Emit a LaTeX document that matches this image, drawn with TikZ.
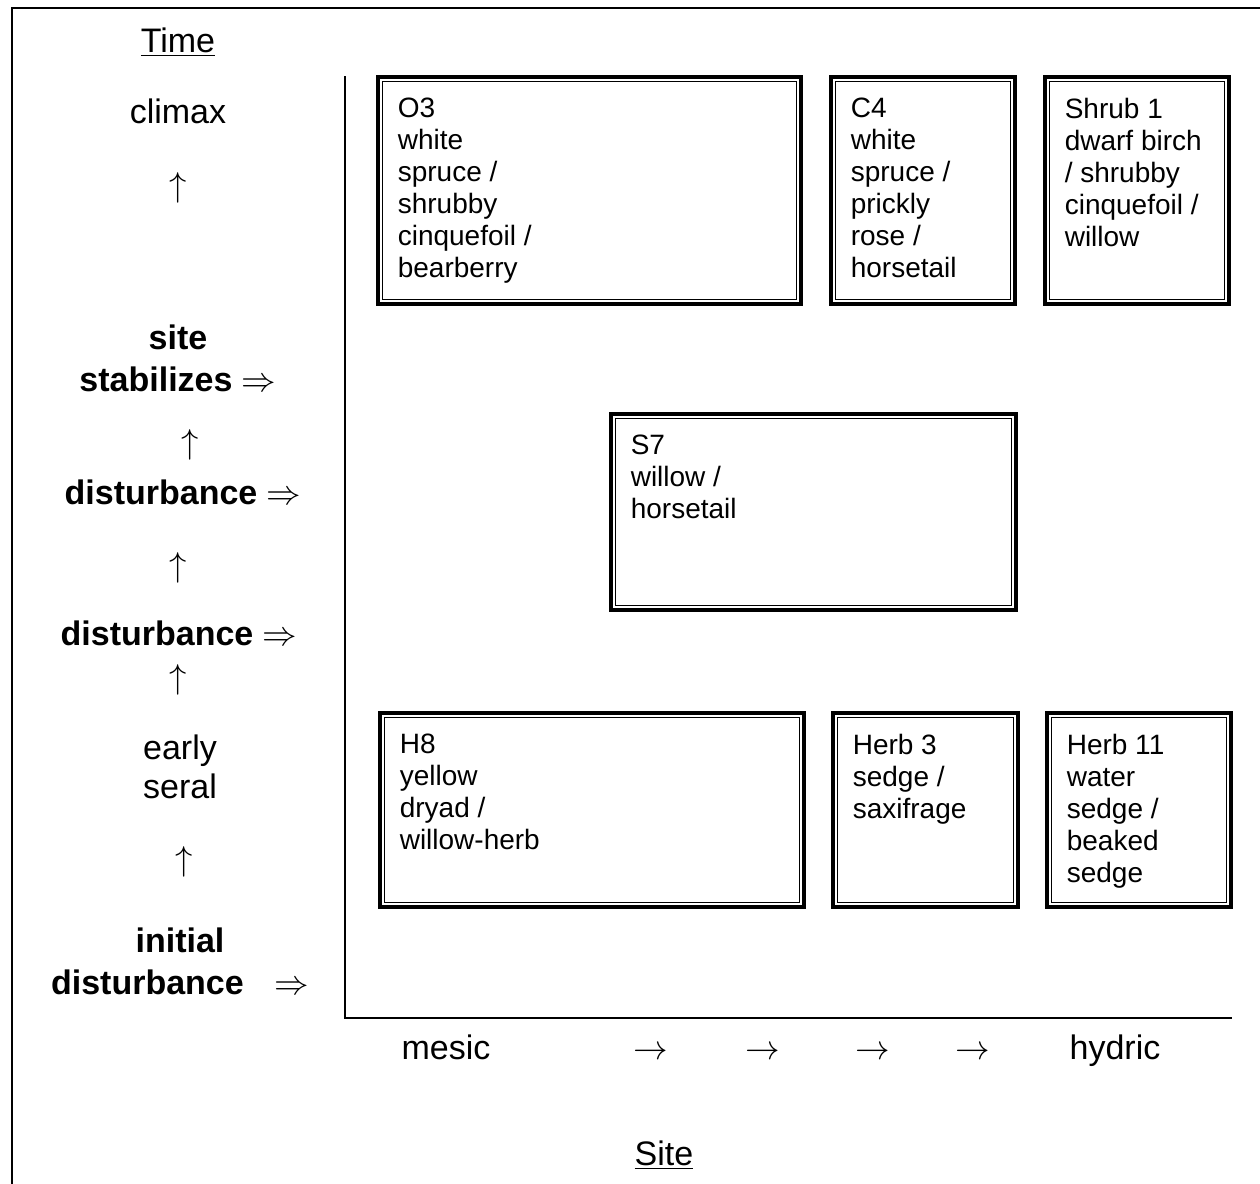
\documentclass[tikz,border=0pt]{standalone}
\usepackage{fontspec}
\setmainfont{Liberation Sans}
\usetikzlibrary{fit}
\tikzset{
  vbox/.style={draw, line width=1.6pt, inner sep=0pt},
  vinner/.style={draw, line width=0.6pt},
  vtext/.style={anchor=north west, inner sep=0pt, align=left, font=\fontsize{14}{16}\selectfont},
  lab/.style={align=center, inner sep=0pt, font=\fontsize{17}{19.5}\selectfont},
  blab/.style={align=center, inner sep=0pt, font=\fontsize{17}{21}\selectfont\bfseries},
  uparr/.style={inner sep=0pt, font=\fontsize{17}{19.5}\selectfont},
  axisline/.style={line width=1.4pt},
  frameline/.style={line width=1.3pt},
}
\newcommand\vegbox[6]{%
  \node[vbox, fit={(#2,#3) (#4,#5)}] (#1) {};
  \draw[vinner] ([shift={(6,6)}]#1.north west) rectangle ([shift={(-6,-6)}]#1.south east);
  \node[vtext] (#1t) at ([shift={(21,22)}]#1.north west) {#6};
}
\begin{document}
\begin{tikzpicture}[x=0.5pt,y=-0.5pt]
\useasboundingbox (0,0) rectangle (1260,1184);
% outer frame
\coordinate (fbl) at (12,1184);
\coordinate (ftl) at (12,8);
\coordinate (ftr) at (1260,8);
\draw[frameline] (fbl) -- (ftl) -- (ftr);
% axes
\coordinate (ytop) at (345,76);
\coordinate (origin) at (345,1018);
\coordinate (xend) at (1232,1018);
\draw[axisline] (ytop) -- (origin) -- (xend);
% boxes
\vegbox{O3}{378}{77}{801}{304}{O3\\white\\spruce /\\shrubby\\cinquefoil /\\bearberry}
\vegbox{C4}{831}{77}{1015}{304}{C4\\white\\spruce /\\prickly\\rose /\\horsetail}
\vegbox{Sh1}{1045}{77}{1229}{304}{Shrub 1\\dwarf birch\\/ shrubby\\cinquefoil /\\willow}
\vegbox{S7}{611}{414}{1016}{610}{S7\\willow /\\horsetail}
\vegbox{H8}{380}{713}{804}{907}{H8\\yellow\\dryad /\\willow-herb}
\vegbox{He3}{833}{713}{1018}{907}{Herb 3\\sedge /\\saxifrage}
\vegbox{He11}{1047}{713}{1231}{907}{Herb 11\\water\\sedge /\\beaked\\sedge}
% time axis labels
\node[lab] (time) at (178,42) {\underline{Time}};
\node[lab] (climax) at (178,111) {climax};
\node[uparr] (u1) at (178,188) {$\uparrow$};
\node[blab] (stab) at (178,358) {site\\stabilizes $\Rightarrow$};
\node[uparr] (u2) at (190,445) {$\uparrow$};
\node[blab] (dist1) at (183,492) {disturbance $\Rightarrow$};
\node[uparr] (u3) at (178,568) {$\uparrow$};
\node[blab] (dist2) at (179,633) {disturbance $\Rightarrow$};
\node[uparr] (u4) at (178,680) {$\uparrow$};
\node[lab] (early) at (180,767) {early\\seral};
\node[uparr] (u5) at (184,862) {$\uparrow$};
\node[blab] (init) at (180,961) {initial\\disturbance\hspace{0.9em}$\Rightarrow$};
% site axis labels
\node[lab, anchor=base] (mesic) at (446,1059) {mesic};
\node[uparr, anchor=base] (r1) at (651,1059) {$\rightarrow$};
\node[uparr, anchor=base] (r2) at (763,1059) {$\rightarrow$};
\node[uparr, anchor=base] (r3) at (873,1059) {$\rightarrow$};
\node[uparr, anchor=base] (r4) at (973,1059) {$\rightarrow$};
\node[lab, anchor=base] (hydric) at (1115,1059) {hydric};
\node[lab] (site) at (664,1155) {\underline{Site}};
\end{tikzpicture}
\end{document}
